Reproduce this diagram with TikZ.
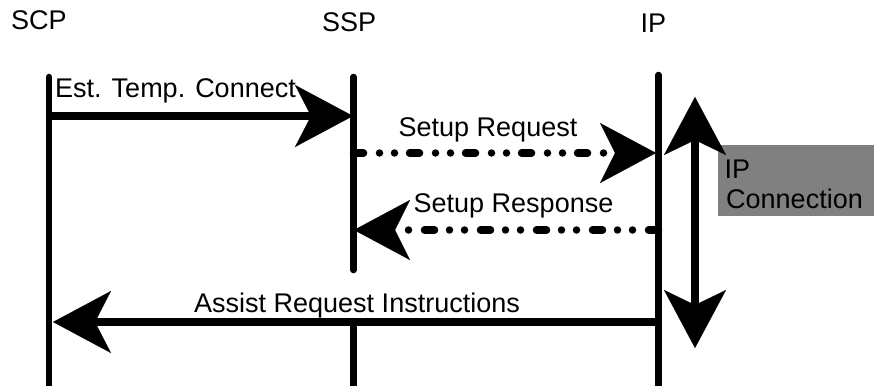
\documentclass[tikz,border=0pt]{standalone}
\usepackage{fontspec}
\setmainfont{Liberation Sans}
\usetikzlibrary{arrows.meta}
\definecolor{boxgray}{HTML}{808080}
\tikzset{
  lifeline/.style={line width=6.5pt, line cap=round},
  msg/.style={line width=8pt, -{Stealth[length=58pt,width=62pt,inset=16pt,line width=0.1pt]}},
  dashmsg/.style={line width=7.5pt, line cap=round,
    dash pattern=on 10pt off 16pt on 0pt off 15pt on 0pt off 15pt,
    -{Stealth[length=56pt,width=60pt,inset=15pt,line width=0.1pt]}},
  lbl/.style={inner sep=0pt, anchor=base west, font=\fontsize{27pt}{30pt}\selectfont},
}
\begin{document}
\begin{tikzpicture}[x=1pt, y=-1pt]
\useasboundingbox (0,0) rectangle (874,385);
% headers
\node[lbl] (scp) at (11,30) {SCP};
\node[lbl] (ssp) at (322,31.5) {SSP};
\node[lbl] (ip) at (640.5,33) {IP};
% lifeline coordinates
\coordinate (scpTop) at (49,77);
\coordinate (scpBot) at (49,395);
\coordinate (sspTop) at (353.5,77);
\coordinate (sspMid1) at (353.5,270);
\coordinate (sspMid2) at (353.5,327);
\coordinate (sspBot) at (353.5,395);
\coordinate (ipTop) at (658.5,75);
\coordinate (ipBot) at (658.5,395);
\draw[lifeline] (scpTop) -- (scpBot);
\draw[lifeline] (sspTop) -- (sspMid1);
\draw[lifeline] (sspMid2) -- (sspBot);
\draw[lifeline] (ipTop) -- (ipBot);
% gray box
\fill[boxgray] (718,145) rectangle (874,216);
\node[lbl] (ipc1) at (724.5,178) {IP};
\node[lbl] (ipc2) at (726,208) {Connection};
% message coordinates
\coordinate (m1s) at (49,116);
\coordinate (m1e) at (353,116);
\coordinate (m2s) at (353.5,153);
\coordinate (m2e) at (656,153);
\coordinate (m3s) at (658.5,230);
\coordinate (m3e) at (354,230);
\coordinate (m4s) at (658.5,322);
\coordinate (m4e) at (53,322);
\coordinate (ic1) at (695,97);
\coordinate (ic2) at (695,348);
\draw[msg] (m1s) -- (m1e);
\draw[dashmsg] (m2s) -- (m2e);
\draw[dashmsg] (m3s) -- (m3e);
\draw[msg] (m4s) -- (m4e);
\draw[line width=8pt, {Stealth[length=58pt,width=62pt,inset=15pt,line width=0.1pt]}-{Stealth[length=58pt,width=62pt,inset=15pt,line width=0.1pt]}] (ic1) -- (ic2);
% labels
\node[lbl] (l1) at (55,97.5) {Est. Temp. Connect};
\node[lbl] (l2) at (398.5,136) {Setup Request};
\node[lbl] (l3) at (413.5,212.5) {Setup Response};
\node[lbl] (l4) at (194,312) {Assist Request Instructions};
\end{tikzpicture}
\end{document}
